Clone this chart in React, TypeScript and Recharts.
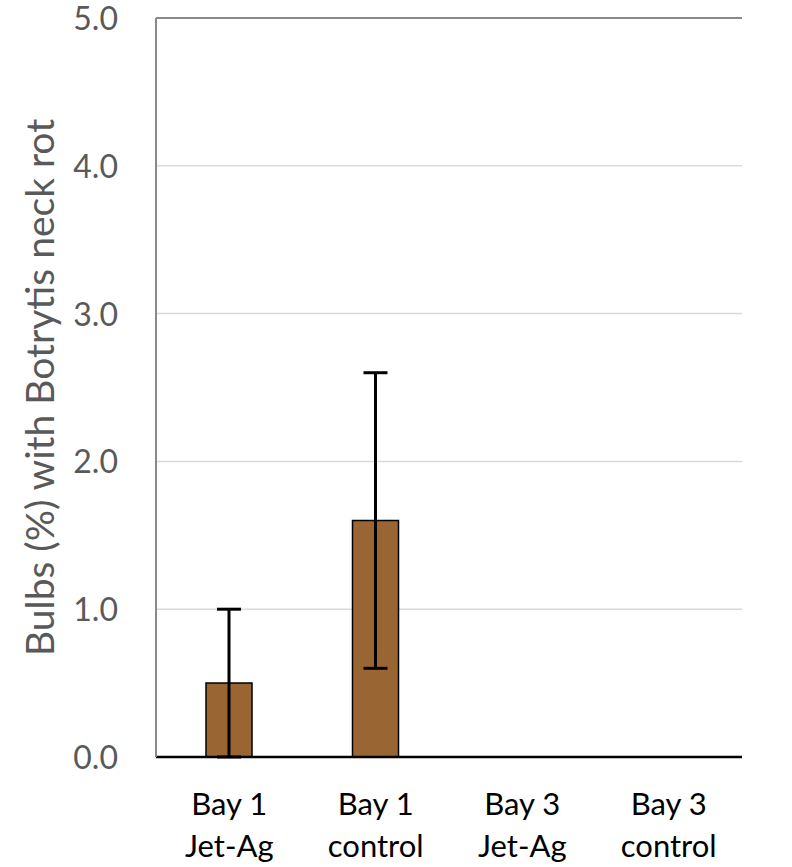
import { BarChart, Bar, XAxis, YAxis, CartesianGrid, ErrorBar, ReferenceLine } from "recharts";

const categories = ["Bay 1|Jet-Ag", "Bay 1|control", "Bay 3|Jet-Ag", "Bay 3|control"];
const values = [0.5, 1.6, 0, 0];
const errors = [0.5, 1.0, 0, 0];
const yTicks = [0, 1, 2, 3, 4, 5];

const data = categories.map((c, i) => ({ name: c, value: values[i], err: errors[i] }));

const FONT = "Lato, 'Open Sans', sans-serif";

function CatTick(props: any) {
  const { x, y, payload } = props;
  const lines = String(payload.value).split("|");
  return (
    <text x={x} y={y} textAnchor="middle" fill="#000" fontSize={31} fontFamily={FONT}>
      {lines.map((l, i) => (
        <tspan key={i} x={x} dy={i === 0 ? 50 : 42}>
          {l}
        </tspan>
      ))}
    </text>
  );
}

function ValTick(props: any) {
  const { x, y, payload } = props;
  return (
    <text x={x} y={y + 12} textAnchor="end" fill="#595959" fontSize={32} fontFamily={FONT}>
      {Number(payload.value).toFixed(1)}
    </text>
  );
}

export default function App() {
  return (
    <div style={{ position: "absolute", left: 0, top: 0, background: "#fff" }}>
      <BarChart
        width={792}
        height={867}
        data={data}
        margin={{ top: 18, right: 50, bottom: 0, left: 0 }}
      >
        <CartesianGrid vertical={false} stroke="#d9d9d9" strokeWidth={1.5} />
        <XAxis
          dataKey="name"
          axisLine={{ stroke: "#000", strokeWidth: 2.5 }}
          tickLine={false}
          tick={<CatTick />}
          height={110}
          interval={0}
        />
        <YAxis
          domain={[0, 5]}
          ticks={yTicks}
          width={156}
          axisLine={{ stroke: "#898989", strokeWidth: 2 }}
          tickLine={false}
          tickMargin={32}
          tick={<ValTick />}
          label={{
            value: "Bulbs (%) with Botrytis neck rot",
            angle: -90,
            position: "insideLeft",
            offset: 40,
            style: { textAnchor: "middle", fill: "#595959", fontSize: 39, fontFamily: FONT },
          }}
        />
        <YAxis
          yAxisId="r"
          orientation="right"
          domain={[0, 5]}
          width={0}
          tick={false}
          tickLine={false}
          axisLine={{ stroke: "#898989", strokeWidth: 2 }}
        />
        <ReferenceLine y={5} stroke="#898989" strokeWidth={2} />
        <Bar dataKey="value" fill="#996633" stroke="#000" strokeWidth={1.5} barSize={46} isAnimationActive={false}>
          <ErrorBar dataKey="err" width={12} stroke="#000" strokeWidth={3} direction="y" />
        </Bar>
      </BarChart>
    </div>
  );
}
